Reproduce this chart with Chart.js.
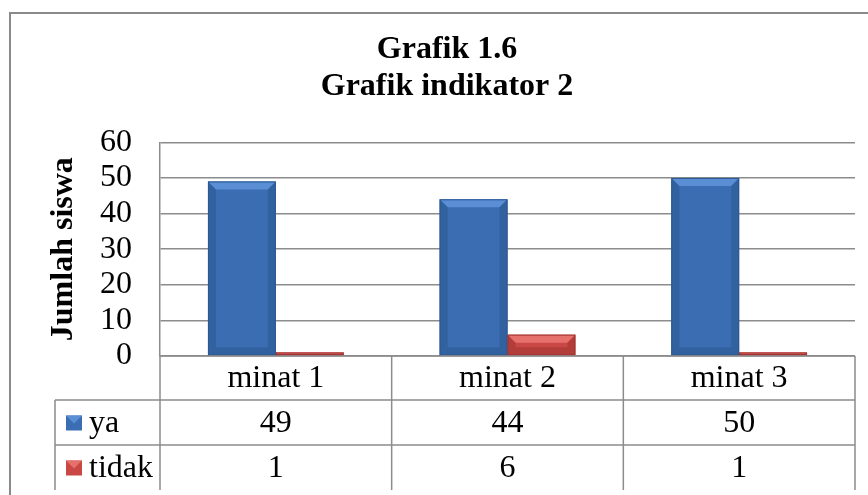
<!DOCTYPE html>
<html>
<head>
<meta charset="utf-8">
<script src="https://cdn.jsdelivr.net/npm/chart.js@4.4.0/dist/chart.umd.min.js"></script>
<style>
  html, body { margin: 0; padding: 0; background: #fff; }
  #wrap { width: 868px; height: 495px; }
</style>
</head>
<body>
<div id="wrap"><canvas id="chart"></canvas></div>
<script>
const categories = ["minat 1", "minat 2", "minat 3"];
const yaValues = [49, 44, 50];
const tidakValues = [1, 6, 1];
const seriesNames = ["ya", "tidak"];
const yTicks = [0, 10, 20, 30, 40, 50, 60];

const lineGrey = "#8c8c8c";
const serif = "'Liberation Serif', 'Times New Roman', serif";
const fills = ["#3b6db3", "#c94744"];
const bevelLight = ["#5a8fd6", "#e6706c"];
const bevelDark = ["#2c5890", "#9e3432"];

// light top bevel + darker sides on each bar
const bevelPlugin = {
  id: "bevel",
  afterDatasetsDraw(chart) {
    const ctx = chart.ctx;
    ctx.save();
    chart.data.datasets.forEach((ds, d) => {
      chart.getDatasetMeta(d).data.forEach(bar => {
        const l = bar.x - bar.width / 2, r = bar.x + bar.width / 2;
        const t = bar.y, b = bar.base;
        const h = b - t;
        const bv = Math.min(8, h / 2);
        if (h < 2) return;
        ctx.fillStyle = bevelLight[d];
        ctx.beginPath();
        ctx.moveTo(l, t); ctx.lineTo(r, t);
        ctx.lineTo(r - bv, t + bv); ctx.lineTo(l + bv, t + bv);
        ctx.closePath(); ctx.fill();
        ctx.fillStyle = bevelDark[d];
        ctx.globalAlpha = 0.55;
        ctx.beginPath();
        ctx.moveTo(l, t); ctx.lineTo(l + bv, t + bv);
        ctx.lineTo(l + bv, b - bv); ctx.lineTo(l, b); ctx.closePath(); ctx.fill();
        ctx.beginPath();
        ctx.moveTo(r, t); ctx.lineTo(r - bv, t + bv);
        ctx.lineTo(r - bv, b - bv); ctx.lineTo(r, b); ctx.closePath(); ctx.fill();
        ctx.beginPath();
        ctx.moveTo(l, b); ctx.lineTo(l + bv, b - bv);
        ctx.lineTo(r - bv, b - bv); ctx.lineTo(r, b); ctx.closePath(); ctx.fill();
        ctx.globalAlpha = 1;
        ctx.strokeStyle = bevelDark[d];
        ctx.lineWidth = 1;
        ctx.strokeRect(l + 0.5, t + 0.5, bar.width - 1, h - 1);
      });
    });
    ctx.restore();
  }
};

// data table under the plot + outer frame, like the excel chart
const tablePlugin = {
  id: "dataTable",
  afterDraw(chart) {
    const ctx = chart.ctx;
    const area = chart.chartArea;
    const xs = chart.scales.x;
    const rowH = 45;
    const top = area.bottom;
    const labelLeft = 55;
    const colW = (area.right - area.left) / categories.length;
    const rows = [yaValues, tidakValues];

    ctx.save();
    ctx.strokeStyle = lineGrey;
    ctx.lineWidth = 1.5;
    ctx.beginPath();
    ctx.moveTo(area.left, top);
    ctx.lineTo(area.right, top);
    for (let r = 1; r <= rows.length; r++) {
      const y = top + rowH * r - 1;
      ctx.moveTo(labelLeft, y);
      ctx.lineTo(area.right, y);
    }
    ctx.moveTo(labelLeft, top + rowH - 1);
    ctx.lineTo(labelLeft, top + rowH * 3 - 1);
    ctx.moveTo(area.left, top);
    ctx.lineTo(area.left, top + rowH * 3 - 1);
    for (let c = 1; c <= categories.length; c++) {
      const x = area.left + colW * c;
      ctx.moveTo(x, top);
      ctx.lineTo(x, top + rowH * 3 - 1);
    }
    ctx.stroke();

    ctx.fillStyle = "#000";
    ctx.font = "32px " + serif;
    ctx.textAlign = "center";
    ctx.textBaseline = "middle";
    categories.forEach((cat, i) => {
      const cx = xs.getPixelForValue(i);
      ctx.fillText(cat, cx, top + rowH / 2);
      rows.forEach((vals, r) => {
        ctx.fillText(String(vals[i]), cx, top + rowH * (r + 1) + rowH / 2);
      });
    });

    // legend keys in the row label cells
    ctx.textAlign = "left";
    seriesNames.forEach((name, r) => {
      const cy = top + rowH * (r + 1) + rowH / 2;
      ctx.fillStyle = fills[r];
      ctx.fillRect(66, cy - 8, 16, 15);
      ctx.fillStyle = bevelLight[r];
      ctx.beginPath();
      ctx.moveTo(66, cy - 8); ctx.lineTo(82, cy - 8); ctx.lineTo(74, cy);
      ctx.closePath(); ctx.fill();
      ctx.fillStyle = "#000";
      ctx.fillText(name, 89, cy);
    });

    // outer frame of the chart object
    ctx.strokeStyle = "#8a8a8a";
    ctx.lineWidth = 2;
    ctx.beginPath();
    ctx.moveTo(10, 500);
    ctx.lineTo(10, 13);
    ctx.lineTo(880, 13);
    ctx.stroke();
    ctx.restore();
  }
};

const ctx = document.getElementById("chart").getContext("2d");
new Chart(ctx, {
  type: "bar",
  data: {
    labels: categories,
    datasets: [
      {
        label: seriesNames[0],
        data: yaValues,
        backgroundColor: fills[0],
        borderWidth: 0,
        categoryPercentage: 0.586,
        barPercentage: 1
      },
      {
        label: seriesNames[1],
        data: tidakValues,
        backgroundColor: fills[1],
        borderWidth: 0,
        categoryPercentage: 0.586,
        barPercentage: 1
      }
    ]
  },
  options: {
    responsive: true,
    maintainAspectRatio: false,
    animation: false,
    layout: { padding: { left: 39, right: 13, top: 0, bottom: 139 } },
    plugins: {
      legend: { display: false },
      tooltip: { enabled: false },
      title: {
        display: true,
        text: ["Grafik 1.6", "Grafik indikator 2"],
        color: "#000",
        font: { family: serif, size: 32, weight: "bold", lineHeight: 1.13 },
        padding: { top: 32, bottom: 38 }
      }
    },
    scales: {
      x: {
        ticks: { display: false },
        grid: { display: false, drawTicks: false },
        border: { display: false },
        afterFit(scale) { scale.height = 0; }
      },
      y: {
        min: 0,
        max: 60,
        afterBuildTicks(scale) { scale.ticks = yTicks.map(v => ({ value: v })); },
        ticks: {
          color: "#000",
          padding: 28,
          autoSkip: false,
          font: { family: serif, size: 32 }
        },
        grid: { color: lineGrey, lineWidth: 1.5, drawTicks: false },
        border: { display: true, color: lineGrey, width: 1.5 },
        title: {
          display: true,
          text: "Jumlah siswa",
          color: "#000",
          font: { family: serif, size: 32, weight: "bold" },
          padding: { top: 6, bottom: 0 }
        },
        afterFit(scale) { scale.width = 121; }
      }
    }
  },
  plugins: [bevelPlugin, tablePlugin]
});
</script>
</body>
</html>
